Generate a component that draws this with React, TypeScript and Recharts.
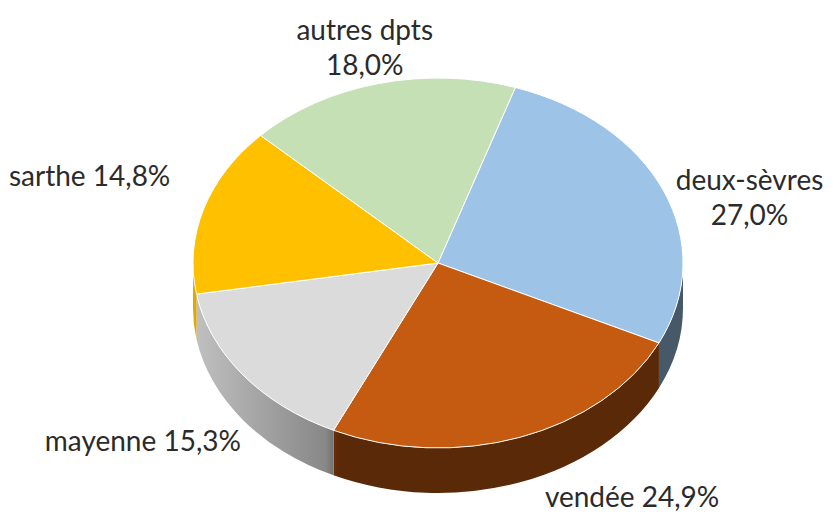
import { PieChart, Pie, Cell } from 'recharts'

const NAMES = ['deux-sèvres', 'vendée', 'mayenne', 'sarthe', 'autres dpts']
const SHARES = [27.0, 24.9, 15.3, 14.8, 18.0]
const COLORS = ['#9DC3E6', '#C55A11', '#DBDBDB', '#FFC000', '#C5E0B4']

const data = NAMES.map((name, i) => ({ name, value: SHARES[i] }))

const W = 839
const H = 515
const CX = 438
const CY = 263
const R = 245
const TILT = 0.755 // vertical squash of the disc
const DEPTH = 45 // thickness of the disc
const START = 71.6
const FONT = 'Lato, "Liberation Sans", sans-serif'

// label placement relative to the rim point at each slice's mid angle
const LABEL_NUDGE = [
  { dx: 86, dy: 6, wrap: true },
  { dx: 112, dy: 14, wrap: false },
  { dx: -100, dy: 20, wrap: false },
  { dx: -114, dy: -34, wrap: false },
  { dx: -14, dy: -37, wrap: true },
]

function shade(hex: string, f: number) {
  const n = parseInt(hex.slice(1), 16)
  const r = Math.round(((n >> 16) & 255) * f)
  const g = Math.round(((n >> 8) & 255) * f)
  const b = Math.round((n & 255) * f)
  return `rgb(${r},${g},${b})`
}

function Slice3D(props: any) {
  const { cx, cy, outerRadius, startAngle, endAngle, fill } = props
  const idx = NAMES.indexOf(props.name ?? props.payload?.name)
  const rx = outerRadius
  const ry = outerRadius * TILT
  const P = (a: number) => {
    const r = (a * Math.PI) / 180
    return [cx + rx * Math.cos(r), cy - ry * Math.sin(r)]
  }
  const hi = Math.max(startAngle, endAngle)
  const lo = Math.min(startAngle, endAngle)
  const [x1, y1] = P(hi)
  const [x2, y2] = P(lo)
  const large = hi - lo > 180 ? 1 : 0
  const top = `M${cx},${cy} L${x1},${y1} A${rx},${ry} 0 ${large} 1 ${x2},${y2} Z`

  // visible front wall: where the angle sits in (-180, 0) mod 360
  const sides: string[] = []
  for (let k = -2; k <= 1; k++) {
    const a = Math.max(lo, -180 + 360 * k)
    const b = Math.min(hi, 360 * k)
    if (b - a > 0.01) {
      const [bx, by] = P(b)
      const [ax, ay] = P(a)
      sides.push(
        `M${bx},${by} A${rx},${ry} 0 0 1 ${ax},${ay} L${ax},${ay + DEPTH} A${rx},${ry} 0 0 0 ${bx},${by + DEPTH} Z`
      )
    }
  }
  const gid = `side-${idx}`

  return (
    <g>
      <defs>
        <linearGradient id={gid} gradientUnits="userSpaceOnUse" x1={cx - rx} y1={0} x2={cx + rx} y2={0}>
          <stop offset="0" stopColor={shade(fill, 0.88)} />
          <stop offset="0.27" stopColor={shade(fill, 0.62)} />
          <stop offset="0.3" stopColor={shade(fill, 0.45)} />
          <stop offset="1" stopColor={shade(fill, 0.45)} />
        </linearGradient>
      </defs>
      {sides.map((d, i) => (
        <path key={i} d={d} fill={`url(#${gid})`} stroke="none" />
      ))}
      <path d={top} fill={fill} stroke="#ffffff" strokeWidth={1} strokeLinejoin="round" />
    </g>
  )
}

const renderLabel = (p: any) => {
  const i = p.index
  const m = (p.midAngle * Math.PI) / 180
  const rx = p.outerRadius
  const ry = rx * TILT
  let x = p.cx + rx * Math.cos(m)
  let y = p.cy - ry * Math.sin(m)
  if (Math.sin(m) < 0) y += DEPTH
  const n = LABEL_NUDGE[i]
  x += n.dx
  y += n.dy
  const pct = SHARES[i].toFixed(1).replace('.', ',') + '%'
  const lines = n.wrap ? [NAMES[i], pct] : [`${NAMES[i]} ${pct}`]
  const lh = 35
  const y0 = y - ((lines.length - 1) * lh) / 2
  return (
    <text
      key={`lbl-${i}`}
      textAnchor="middle"
      dominantBaseline="central"
      fontFamily={FONT}
      fontSize={28}
      fill="#2b2b2b"
    >
      {lines.map((l, k) => (
        <tspan key={k} x={x} y={y0 + k * lh}>
          {l}
        </tspan>
      ))}
    </text>
  )
}

export default function App() {
  return (
    <div style={{ position: 'absolute', left: 0, top: 0, width: W, height: H, background: '#fff' }}>
      <PieChart width={W} height={H} margin={{ top: 0, right: 0, bottom: 0, left: 0 }}>
        <Pie
          data={data}
          dataKey="value"
          nameKey="name"
          cx={CX}
          cy={CY}
          outerRadius={R}
          startAngle={START}
          endAngle={START - 360}
          shape={Slice3D}
          label={renderLabel}
          labelLine={false}
          isAnimationActive={false}
        >
          {data.map((d, i) => (
            <Cell key={d.name} fill={COLORS[i]} />
          ))}
        </Pie>
      </PieChart>
    </div>
  )
}
